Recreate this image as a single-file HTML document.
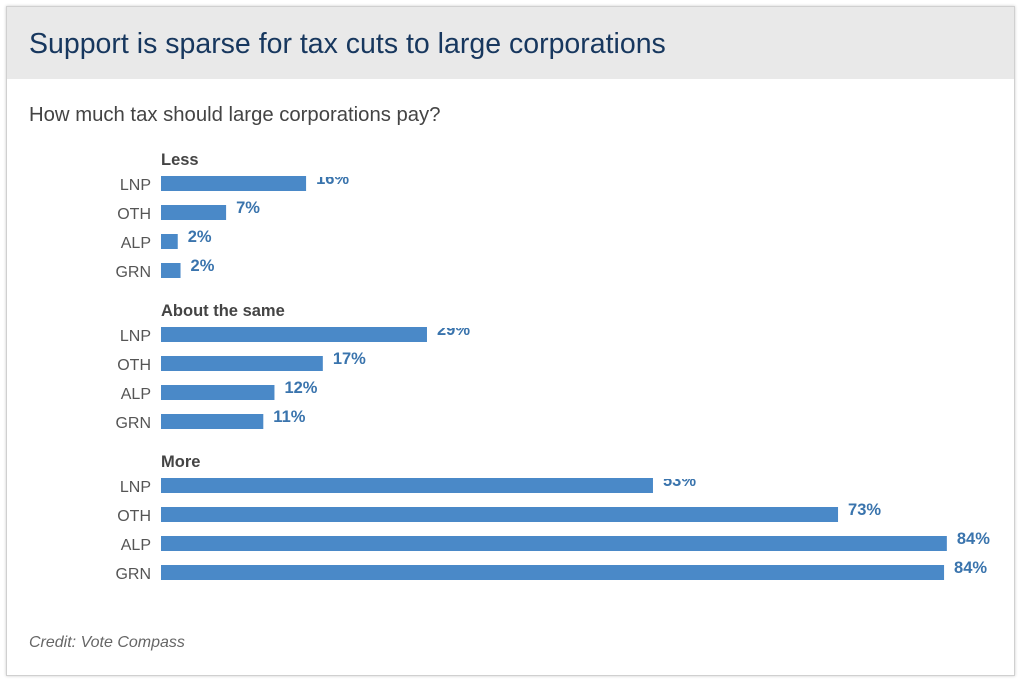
<!DOCTYPE html>
<html><head><meta charset="utf-8"><style>
body{margin:0;width:1021px;height:680px;background:#fff;font-family:"Liberation Sans",Arial,sans-serif;overflow:hidden}
.card{position:absolute;left:6px;top:6px;width:1007px;height:668px;border:1px solid #d0d0d0;box-shadow:0 0 3px rgba(0,0,0,.2);background:#fff}
.hdr{position:absolute;left:0;top:0;width:1007px;height:72px;background:#e9e9e9}
.title{position:absolute;left:22px;top:21px;font-size:28.5px;color:#17375e;white-space:nowrap}
.sub{position:absolute;left:22px;top:97px;font-size:20.3px;color:#444;white-space:nowrap}
.credit{position:absolute;left:22px;top:627px;font-size:16px;font-style:italic;color:#666}
svg{position:absolute;left:0;top:0}
</style></head><body>
<div class="card">
<div class="hdr"><div class="title">Support is sparse for tax cuts to large corporations</div></div>
<div class="sub">How much tax should large corporations pay?</div>
<div class="credit">Credit: Vote Compass</div>
</div>
<svg id="chart" width="1021" height="680"></svg>
<script>
const groups=["Less","About the same","More"];
const parties=["LNP","OTH","ALP","GRN"];
const lessVals=[15.6,7.0,1.8,2.1];
const sameVals=[28.6,17.4,12.2,11.0];
const moreVals=[52.9,72.8,84.5,84.2];
const lessLabels=["16%","7%","2%","2%"];
const sameLabels=["29%","17%","12%","11%"];
const moreLabels=["53%","73%","84%","84%"];
const allVals=[lessVals,sameVals,moreVals];
const allLabels=[lessLabels,sameLabels,moreLabels];
const NS="http://www.w3.org/2000/svg";
const svg=document.getElementById('chart');
const x0=161, pxPer=9.3;
const xScale=v=>v*pxPer;
const groupTop=[176,327,478], rowStep=29, barH=15;
function mk(t,a){const e=document.createElementNS(NS,t);for(const k in a)e.setAttribute(k,a[k]);svg.appendChild(e);return e;}
groups.forEach((g,gi)=>{
  const h=mk('text',{x:x0,y:groupTop[gi]-11,'font-size':16.5,'font-weight':'bold',fill:'#444'});
  h.textContent=g;
  
  
  const cp=document.createElementNS(NS,'clipPath');cp.setAttribute('id','c'+gi);
  const r=document.createElementNS(NS,'rect');r.setAttribute('x',0);r.setAttribute('y',groupTop[gi]+1);r.setAttribute('width',1021);r.setAttribute('height',200);
  cp.appendChild(r);svg.appendChild(cp);
  parties.forEach((p,pi)=>{
    const y=groupTop[gi]+pi*rowStep;
    const t=mk('text',{x:151,y:y+14,'font-size':16,fill:'#555','text-anchor':'end'});
    t.textContent=p;
    
    
    const w=xScale(allVals[gi][pi]);
    const b=mk('rect',{x:x0,y:y,width:w,height:barH,fill:'#4a89c8'});
    
    
    const l=mk('text',{x:x0+w+10,y:y+8,'font-size':16.5,'font-weight':'bold',fill:'#3a74ad','clip-path':'url(#c'+gi+')'});
    l.textContent=allLabels[gi][pi];
    
    
  });
});
</script>
</body></html>
